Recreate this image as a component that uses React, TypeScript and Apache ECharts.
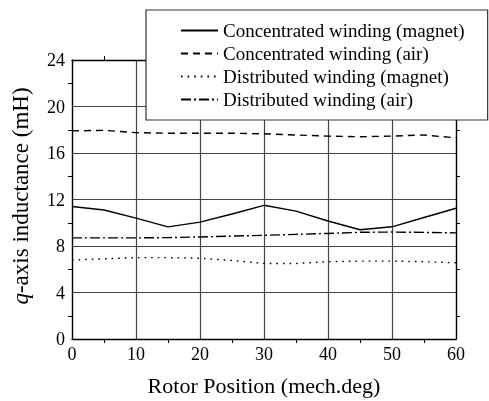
import React, { useEffect, useRef } from "react";
import * as echarts from "echarts";

const positions = [0, 5, 10, 15, 20, 25, 30, 35, 40, 45, 50, 55, 60];
const concMagnet = [11.4, 11.1, 10.4, 9.65, 10.05, 10.75, 11.5, 11.0, 10.15, 9.4, 9.65, 10.45, 11.25];
const concAir = [17.9, 17.95, 17.75, 17.7, 17.7, 17.7, 17.65, 17.55, 17.45, 17.4, 17.45, 17.55, 17.3];
const distMagnet = [6.8, 6.9, 7.0, 7.0, 6.95, 6.75, 6.5, 6.5, 6.65, 6.7, 6.7, 6.65, 6.55];
const distAir = [8.7, 8.7, 8.7, 8.72, 8.78, 8.85, 8.92, 9.0, 9.08, 9.18, 9.2, 9.17, 9.13];
const seriesNames = [
  "Concentrated winding (magnet)",
  "Concentrated winding (air)",
  "Distributed winding (magnet)",
  "Distributed winding (air)",
];
const yNameItalic = "q";
const yNameRest = "-axis inductance (mH)";
const xName = "Rotor Position (mech.deg)";

const FONT = "Liberation Serif";

export default function App() {
  const ref = useRef<HTMLDivElement>(null);
  useEffect(() => {
    if (!ref.current) return;
    const chart = echarts.init(ref.current, null, { renderer: "svg" });
    const pair = (arr: number[]) => positions.map((p, i) => [p, arr[i]]);
    const styles: any[] = [
      { type: "solid", width: 1.4 },
      { type: [7, 5], width: 1.4 },
      { type: [1.6, 5], width: 1.4 },
      { type: [10, 3, 2, 3], width: 1.4 },
    ];
    const datas = [concMagnet, concAir, distMagnet, distAir];
    const minorTick = { show: true, splitNumber: 2, length: 4, lineStyle: { color: "#000", width: 1 } };
    const baseX = {
      type: "value",
      min: 0,
      max: 60,
      interval: 10,
      axisLine: { show: true, onZero: false, lineStyle: { color: "#000", width: 1.3 } },
      axisTick: { show: false },
      minorTick: { ...minorTick },
    };
    const baseY = {
      type: "value",
      min: 0,
      max: 24,
      interval: 4,
      axisLine: { show: true, onZero: false, lineStyle: { color: "#000", width: 1.3 } },
      axisTick: { show: false },
      minorTick: { ...minorTick },
    };
    const nameFont = "23px " + FONT;
    const italicFont = "italic 23px " + FONT;
    const wq = new echarts.graphic.Text({ style: { text: yNameItalic, font: italicFont } }).getBoundingRect().width;
    const wr = new echarts.graphic.Text({ style: { text: yNameRest, font: nameFont } }).getBoundingRect().width;
    const total = wq + wr;
    chart.setOption({
      animation: false,
      grid: { left: 72, right: 33, top: 60, bottom: 59, containLabel: false },
      legend: {
        orient: "vertical",
        left: 146,
        top: 10,
        data: seriesNames,
        backgroundColor: "#fff",
        borderColor: "#333",
        borderWidth: 1.2,
        padding: [11, 23, 11, 34],
        itemWidth: 37,
        itemHeight: 14,
        itemGap: 4,
        itemStyle: { opacity: 0 },
        textStyle: { fontFamily: FONT, fontSize: 19, color: "#000" },
        z: 10,
      },
      graphic: [
        {
          type: "group",
          x: 20,
          y: 196,
          rotation: Math.PI / 2,
          children: [
            {
              type: "text",
              x: -total / 2,
              y: 0,
              style: { text: yNameItalic, font: italicFont, fill: "#000", align: "left", verticalAlign: "middle" },
            },
            {
              type: "text",
              x: -total / 2 + wq,
              y: 0,
              style: { text: yNameRest, font: nameFont, fill: "#000", align: "left", verticalAlign: "middle" },
            },
          ],
        },
      ],
      xAxis: [
        {
          ...baseX,
          position: "bottom",
          name: xName,
          nameLocation: "middle",
          nameGap: 35,
          nameTextStyle: { fontFamily: FONT, fontSize: 22, color: "#000" },
          axisLabel: { fontFamily: FONT, fontSize: 18, color: "#000", margin: 6 },
          splitLine: { show: true, lineStyle: { color: "#444", width: 1.2 } },
        },
        {
          ...baseX,
          position: "top",
          axisLabel: { show: false },
          splitLine: { show: false },
        },
      ],
      yAxis: [
        {
          ...baseY,
          position: "left",
          axisLabel: { fontFamily: FONT, fontSize: 18, color: "#000", margin: 7 },
          splitLine: { show: true, lineStyle: { color: "#444", width: 1.2 } },
        },
        {
          ...baseY,
          position: "right",
          axisLabel: { show: false },
          splitLine: { show: false },
        },
      ],
      series: seriesNames.map((name, i) => ({
        name,
        type: "line",
        xAxisIndex: 0,
        yAxisIndex: 0,
        data: pair(datas[i]),
        symbol: "none",
        showSymbol: false,
        lineStyle: { color: "#000", ...styles[i] },
        itemStyle: { color: "#000" },
      })),
    });
    return () => chart.dispose();
  }, []);
  return (
    <div
      ref={ref}
      style={{ position: "fixed", left: 0, top: 0, width: 489, height: 401 }}
    />
  );
}
